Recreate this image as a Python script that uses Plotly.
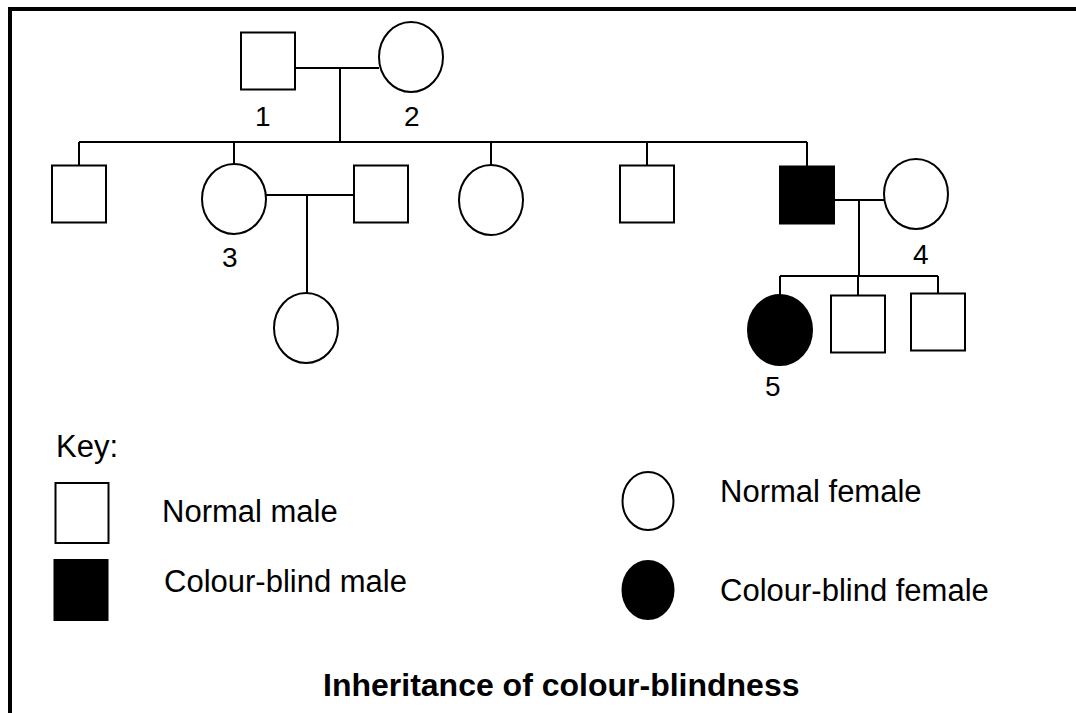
import plotly.graph_objects as go

# ---------------- data ----------------
# Individuals of the pedigree
ind_ids = ["I-1", "I-2", "II-1", "II-2", "II-3", "II-4", "II-5", "II-6", "II-7",
           "III-1", "III-2", "III-3", "III-4"]
ind_sex = ["M", "F", "M", "F", "M", "F", "M", "M", "F", "F", "F", "M", "M"]
ind_affected = [0, 0, 0, 0, 0, 0, 0, 1, 0, 0, 1, 0, 0]
ind_x = [268, 411, 79, 234, 381, 491, 647, 807, 916, 306, 780, 858, 938]
ind_y = [61, 57, 194, 199, 194, 200, 194, 195, 194, 328, 330, 324, 322]

# Numbered labels
label_text = ["1", "2", "3", "4", "5"]
label_x = [263, 412, 230, 921, 773]
label_y = [116, 116, 257, 254, 386]

# Matings: (left partner, right partner), mating-line height, drop x, sibship-line height, children
mate_left = ["I-1", "II-2", "II-6"]
mate_right = ["I-2", "II-3", "II-7"]
mate_y = [68, 195, 200]
mate_drop_x = [340, 307, 859]
sibship_y = [142, None, 276]
children = [["II-1", "II-2", "II-4", "II-5", "II-6"], ["III-1"], ["III-2", "III-3", "III-4"]]

# Key
key_labels = ["Normal male", "Colour-blind male", "Normal female", "Colour-blind female"]
key_sex = ["M", "M", "F", "F"]
key_affected = [0, 1, 0, 1]
key_x = [82, 81, 648, 648]
key_y = [513, 590, 501, 590]
key_text_x = [160, 162, 718, 718]
key_text_y = [511, 581, 491, 590]

title_text = "Inheritance of colour-blindness"

# ---------------- styling constants ----------------
SQ_W, SQ_H = 54, 57
EL_W, EL_H = 64, 70
KEY_SQ_W, KEY_SQ_H = 53, 60
KEY_EL_W, KEY_EL_H = 51, 58
LW = 2
FONT = "Arial, Liberation Sans, sans-serif"

fig = go.Figure()
shapes = []
annotations = []

idx = {k: i for i, k in enumerate(ind_ids)}


def half(sex, key=False):
    if sex == "M":
        return ((KEY_SQ_W if key else SQ_W) / 2, (KEY_SQ_H if key else SQ_H) / 2)
    return ((KEY_EL_W if key else EL_W) / 2, (KEY_EL_H if key else EL_H) / 2)


def line(x0, y0, x1, y1, w=LW):
    shapes.append(dict(type="line", xref="x", yref="y", x0=x0, y0=y0, x1=x1, y1=y1,
                       line=dict(color="black", width=w), layer="below"))


def symbol(x, y, sex, aff, key=False):
    hw, hh = half(sex, key)
    shapes.append(dict(type="rect" if sex == "M" else "circle", xref="x", yref="y",
                       x0=x - hw, x1=x + hw, y0=y - hh, y1=y + hh,
                       line=dict(color="black", width=LW),
                       fillcolor="black" if aff else "white", layer="above"))


# Mating and descent lines
for l, r, my, dx, sy, kids in zip(mate_left, mate_right, mate_y, mate_drop_x, sibship_y, children):
    li, ri = idx[l], idx[r]
    lhw, _ = half(ind_sex[li])
    rhw, _ = half(ind_sex[ri])
    line(ind_x[li] + lhw, my, ind_x[ri] - rhw, my)
    if sy is None:
        k = idx[kids[0]]
        _, khh = half(ind_sex[k])
        line(dx, my, dx, ind_y[k] - khh)
    else:
        line(dx, my, dx, sy)
        kx = [ind_x[idx[k]] for k in kids]
        line(min(kx), sy, max(kx), sy)
        for k in kids:
            ki = idx[k]
            _, khh = half(ind_sex[ki])
            line(ind_x[ki], sy, ind_x[ki], ind_y[ki] - khh)

# Individuals
for x, y, s, a in zip(ind_x, ind_y, ind_sex, ind_affected):
    symbol(x, y, s, a)

# Labels
for t, x, y in zip(label_text, label_x, label_y):
    annotations.append(dict(x=x, y=y, xref="x", yref="y", text=t, showarrow=False,
                            xanchor="center", yanchor="middle",
                            font=dict(family=FONT, size=28, color="black")))

# Key
annotations.append(dict(x=54, y=446, xref="x", yref="y", text="Key:", showarrow=False,
                        xanchor="left", yanchor="middle",
                        font=dict(family=FONT, size=31, color="black")))
for lab, s, a, x, y, tx, ty in zip(key_labels, key_sex, key_affected, key_x, key_y,
                                   key_text_x, key_text_y):
    symbol(x, y, s, a, key=True)
    annotations.append(dict(x=tx, y=ty, xref="x", yref="y", text=lab, showarrow=False,
                            xanchor="left", yanchor="middle",
                            font=dict(family=FONT, size=31, color="black")))

annotations.append(dict(x=561, y=685, xref="x", yref="y", text="<b>" + title_text + "</b>",
                        showarrow=False, xanchor="center", yanchor="middle",
                        font=dict(family=FONT, size=32, color="black")))

# Frame (top and left edges)
line(8, 9, 1076, 9, w=4)
line(10, 7, 10, 713, w=4)

# invisible trace so the axes are set up
fig.add_trace(go.Scatter(x=ind_x, y=ind_y, mode="markers", marker=dict(opacity=0),
                         hoverinfo="skip", showlegend=False))

fig.update_layout(
    width=1076, height=713, autosize=False,
    margin=dict(l=0, r=0, t=0, b=0),
    paper_bgcolor="white", plot_bgcolor="white",
    xaxis=dict(range=[0, 1076], visible=False, fixedrange=True),
    yaxis=dict(range=[713, 0], visible=False, fixedrange=True),
    shapes=shapes, annotations=annotations, showlegend=False,
)

fig.write_html("out.html", config={"displayModeBar": False},
               post_script="document.body.style.margin='0';document.body.style.overflow='hidden';")
